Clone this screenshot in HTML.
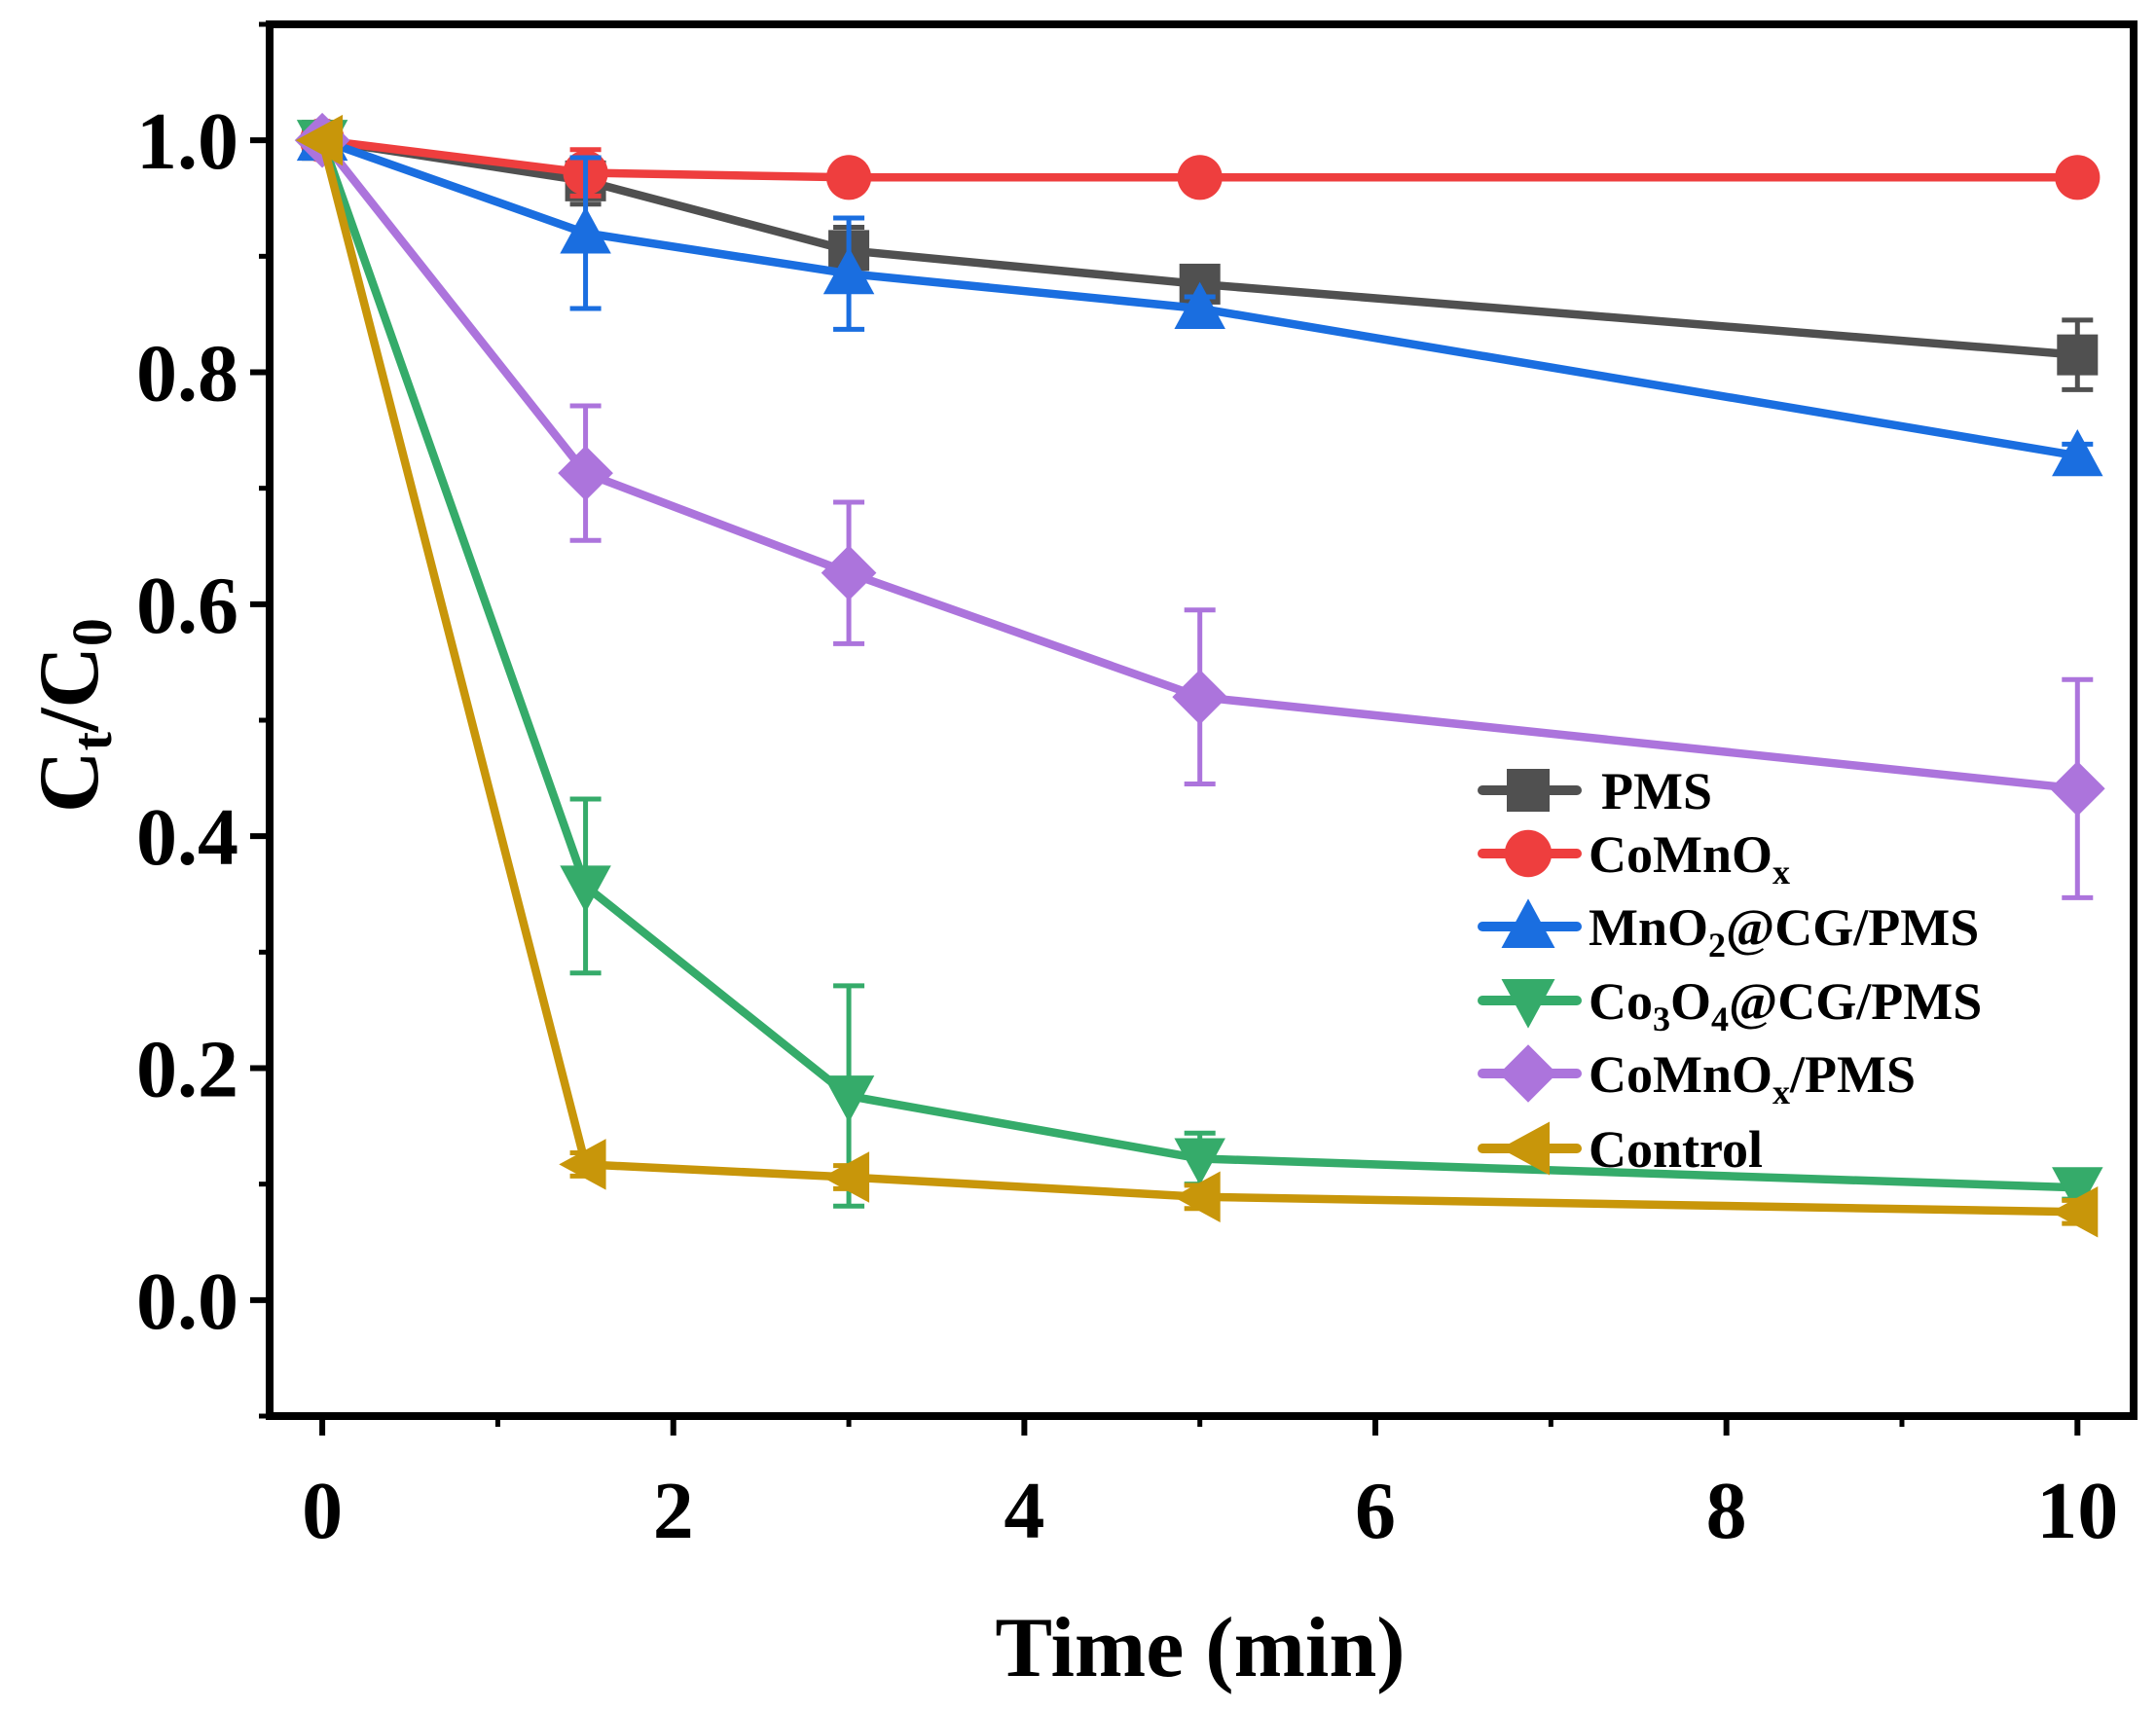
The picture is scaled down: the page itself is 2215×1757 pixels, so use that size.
<!DOCTYPE html>
<html><head><meta charset="utf-8"><style>
html,body{margin:0;padding:0;background:#fff}
svg{display:block}
text{font-family:"Liberation Serif",serif;font-weight:bold;fill:#000}
</style></head><body>
<svg id="chart" width="2215" height="1757" viewBox="0 0 2215 1757" xmlns="http://www.w3.org/2000/svg"></svg>
<script>
const times = [0, 1.5, 3, 5, 10];
const xTicks = [0, 2, 4, 6, 8, 10];
const yTicks = [0.0, 0.2, 0.4, 0.6, 0.8, 1.0];
const pmsVals = [1.0, 0.965, 0.905, 0.876, 0.815];
const pmsErr = [0, 0.02, 0.02, 0.01, 0.03];
const comnoxVals = [1.0, 0.972, 0.968, 0.968, 0.968];
const comnoxErr = [0, 0.02, 0, 0, 0];
const mno2Vals = [1.0, 0.92, 0.885, 0.855, 0.728];
const mno2Err = [0, 0.065, 0.048, 0.01, 0.01];
const co3o4Vals = [1.0, 0.357, 0.176, 0.122, 0.097];
const co3o4Err = [0, 0.075, 0.095, 0.022, 0.01];
const comnoxPmsVals = [1.0, 0.713, 0.627, 0.52, 0.441];
const comnoxPmsErr = [0, 0.058, 0.061, 0.075, 0.094];
const controlVals = [1.0, 0.117, 0.106, 0.089, 0.076];
const controlErr = [0, 0.01, 0.01, 0.01, 0.01];

const NS = "http://www.w3.org/2000/svg";
const svg = document.getElementById('chart');
const L = 277, R = 2192, T = 25, B = 1455;
const xMin = -0.3, xMax = 10.32, yMin = -0.1, yMax = 1.1;
function sx(v){ return L + (v - xMin) / (xMax - xMin) * (R - L); }
function sy(v){ return B - (v - yMin) / (yMax - yMin) * (B - T); }
function mk(tag, attrs, parent){
  const e = document.createElementNS(NS, tag);
  for (const k in attrs) e.setAttribute(k, attrs[k]);
  (parent || svg).appendChild(e);
  return e;
}

xTicks.forEach(v => {
  const t = mk('line', {x1: sx(v), x2: sx(v), y1: B, y2: B + 20, stroke: '#000', 'stroke-width': 6});
  
  
  const m = mk('line', {x1: sx(v + 1), x2: sx(v + 1), y1: B, y2: B + 11, stroke: '#000', 'stroke-width': 5});
  
  
  const lb = mk('text', {x: sx(v), y: 1580, 'text-anchor': 'middle', 'font-size': 84});
  lb.textContent = String(v);
  
  
});
yTicks.forEach(v => {
  const t = mk('line', {x1: L - 20, x2: L, y1: sy(v), y2: sy(v), stroke: '#000', 'stroke-width': 6});
  
  
  const m = mk('line', {x1: L - 11, x2: L, y1: sy(v + 0.1), y2: sy(v + 0.1), stroke: '#000', 'stroke-width': 5});
  
  
  const lb = mk('text', {x: 245, y: sy(v) + 29, 'text-anchor': 'end', 'font-size': 84});
  lb.textContent = v.toFixed(1);
  
  
});
mk('line', {x1: L - 11, x2: L, y1: sy(-0.1), y2: sy(-0.1), stroke: '#000', 'stroke-width': 5});

function marker(shape, x, y, color, s, parent){
  let e;
  if (shape === 'square') e = mk('rect', {x: x - s, y: y - s, width: 2*s, height: 2*s, fill: color}, parent);
  else if (shape === 'circle') e = mk('circle', {cx: x, cy: y, r: s*1.1, fill: color}, parent);
  else if (shape === 'up') e = mk('polygon', {points: `${x},${y-s*1.3} ${x-s*1.25},${y+s} ${x+s*1.25},${y+s}`, fill: color}, parent);
  else if (shape === 'down') e = mk('polygon', {points: `${x},${y+s*1.3} ${x-s*1.25},${y-s} ${x+s*1.25},${y-s}`, fill: color}, parent);
  else if (shape === 'diamond') e = mk('polygon', {points: `${x},${y-s*1.35} ${x+s*1.35},${y} ${x},${y+s*1.35} ${x-s*1.35},${y}`, fill: color}, parent);
  else e = mk('polygon', {points: `${x-s*1.3},${y} ${x+s},${y-s*1.25} ${x+s},${y+s*1.25}`, fill: color}, parent);
  return e;
}

const series = [
  {name: 'pms', vals: pmsVals, err: pmsErr, color: '#505050', shape: 'square'},
  {name: 'comnox', vals: comnoxVals, err: comnoxErr, color: '#ee3e3e', shape: 'circle'},
  {name: 'mno2-cg-pms', vals: mno2Vals, err: mno2Err, color: '#1a6ee0', shape: 'up'},
  {name: 'co3o4-cg-pms', vals: co3o4Vals, err: co3o4Err, color: '#35ab6a', shape: 'down'},
  {name: 'comnox-pms', vals: comnoxPmsVals, err: comnoxPmsErr, color: '#ac74dc', shape: 'diamond'},
  {name: 'control', vals: controlVals, err: controlErr, color: '#c8960a', shape: 'left'}
];
series.forEach(s => {
  const g = mk('g', {});
  
  
  const pts = times.map((t, i) => sx(t) + ',' + sy(s.vals[i])).join(' ');
  const pl = mk('polyline', {points: pts, fill: 'none', stroke: s.color, 'stroke-width': 8.5, 'stroke-linejoin': 'round'}, g);
  
  
  times.forEach((t, i) => {
    const x = sx(t), e = s.err[i];
    if (e > 0) {
      const eb = mk('path', {d: `M${x},${sy(s.vals[i]-e)}V${sy(s.vals[i]+e)}M${x-16},${sy(s.vals[i]+e)}H${x+16}M${x-16},${sy(s.vals[i]-e)}H${x+16}`, stroke: s.color, 'stroke-width': 5, fill: 'none'}, g);
      
      
    }
    const m = marker(s.shape, x, sy(s.vals[i]), s.color, 21, g);
    
    
  });
});

const fr = mk('rect', {x: L, y: T, width: R - L, height: B - T, fill: 'none', stroke: '#000', 'stroke-width': 8});



const legendLabels = ['PMS', 'CoMnO<tspan font-size="36" dy="12">x</tspan>', 'MnO<tspan font-size="36" dy="12">2</tspan><tspan dy="-12">@CG/PMS</tspan>', 'Co<tspan font-size="36" dy="12">3</tspan><tspan dy="-12">O</tspan><tspan font-size="36" dy="12">4</tspan><tspan dy="-12">@CG/PMS</tspan>', 'CoMnO<tspan font-size="36" dy="12">x</tspan><tspan dy="-12">/PMS</tspan>', 'Control'];
const legendRows = [812, 877, 952, 1028, 1103, 1180];
const lg = mk('g', {});


series.forEach((s, i) => {
  const y = legendRows[i];
  const e = mk('g', {}, lg);
  
  
  mk('line', {x1: 1523, x2: 1620, y1: y, y2: y, stroke: s.color, 'stroke-width': 10, 'stroke-linecap': 'round'}, e);
  marker(s.shape, 1570, y, s.color, 22, e);
  const t = mk('text', {x: i === 0 ? 1645 : 1632, y: y + 19, 'font-size': 54}, e);
  t.innerHTML = legendLabels[i];
});

const xt = mk('text', {x: 1233, y: 1722, 'text-anchor': 'middle', 'font-size': 88});
xt.textContent = 'Time (min)';


const yt = mk('text', {x: 0, y: 0, 'text-anchor': 'middle', 'font-size': 88, transform: 'translate(100,735) rotate(-90)'});
yt.innerHTML = 'C<tspan font-size="58" dy="14">t</tspan><tspan dy="-14">/C</tspan><tspan font-size="58" dy="14">0</tspan>';


</script>
</body></html>
